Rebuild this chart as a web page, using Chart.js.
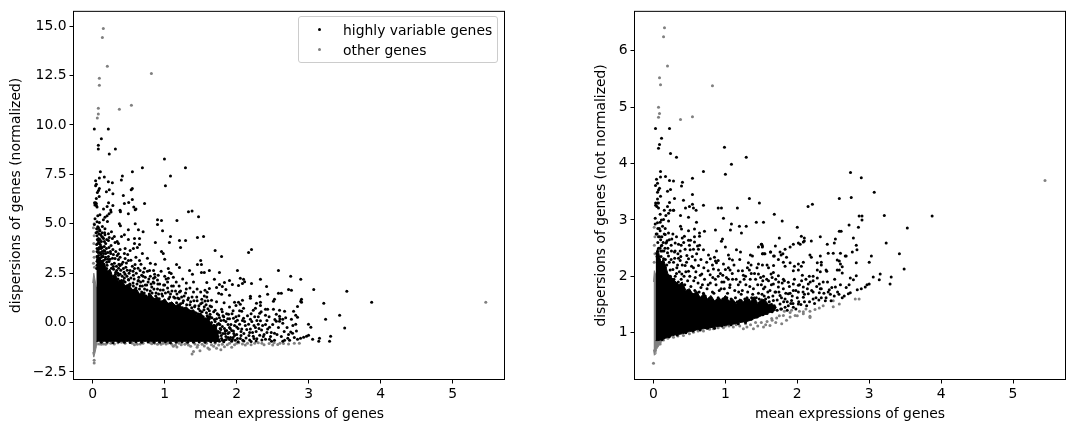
<!DOCTYPE html>
<html>
<head>
<meta charset="utf-8">
<title>Gene dispersions</title>
<script src="https://cdn.jsdelivr.net/npm/chart.js@4"></script>
<style>
  html, body { margin: 0; padding: 0; background: #fff; }
  #page { position: relative; width: 1075px; height: 432px; overflow: hidden; }
  canvas { position: absolute; top: 0; }
  #legend { position: absolute; left: 298px; top: 16px; width: 198px; height: 45px; border: 1px solid #ccc; border-radius: 3px; background: rgba(255,255,255,.8);
    font: 13.9px "DejaVu Sans", sans-serif; color: #000; }
  #legend div { position: absolute; left: 44px; white-space: nowrap; line-height: 16px; }
  #legend i { position: absolute; left: -25.5px; top: 6.5px; width: 3px; height: 3px; border-radius: 50%; }
</style>
</head>
<body>
<div id="page">
  <canvas id="grafNorm" width="537" height="432" style="left:0"></canvas>
  <canvas id="grafRaw" width="538" height="432" style="left:537px"></canvas>
  <div id="legend">
    <div style="top:4.5px"><i style="background:#000"></i>highly variable genes</div>
    <div style="top:24.5px"><i style="background:#808080"></i>other genes</div>
  </div>
</div>
<script>
const xTicks = [0, 1, 2, 3, 4, 5];
const normTicks = [-2.5, 0, 2.5, 5, 7.5, 10, 12.5, 15];
const rawTicks = [1, 2, 3, 4, 5, 6];

// normalized dispersion, [mean, dispersion]
const normOther = [
  [.147,14.88],[.134,14.43],[.203,12.97],[.815,12.61],[.092,12.36],[.092,12.01],[.078,10.85],[.078,10.55],[.064,10.35],[.37,10.8],[.537,11],[5.46,1.03],
  [.02,5],[.01,4.8],[.02,4.4],[.015,4],[.01,3.6],[.02,3.3],[.01,3],[.025,2.8],[.02,-2.05],[.02,-1.9],
  [.09,-1.08],[.12,-1.1],[.15,-1.08],[.18,-1.1],[.2,-1.03],[.25,-1.05],[.3,-1.08],[.35,-1.02],[.4,-1],[.45,-1.04],[.55,-1.05],[.58,-1.12],[.62,-1.1],[.66,-1.08],[.7,-1.04],
  [.8,-1.02],[.82,-1.07],[.86,-1.05],[.9,-1.09],[.95,-1.1],[.98,-1.05],[1.02,-1.08],[1.05,-1.03],[1.1,-1.1],[1.12,-1.2],[1.15,-1.14],[1.17,-1.23],[1.2,-1.05],[1.23,-1.12],[1.28,-1.09],
  [1.3,-1.04],[1.33,-1.13],[1.36,-1.2],[1.38,-1.59],[1.4,-1.46],[1.42,-1.08],[1.45,-1.25],[1.46,-1.15],[1.49,-1.42],[1.52,-1.1],[1.55,-1.18],[1.58,-1.05],[1.6,-1.28],[1.62,-1.35],[1.65,-1.12],
  [1.68,-1.2],[1.7,-1.05],[1.72,-1.3],[1.75,-1.14],[1.78,-1.38],[1.8,-1.1],[1.83,-1.22],[1.87,-1.12],[1.9,-1.04],[1.93,-1.25],[1.97,-1.12],[2,-1.05],[2.03,-1.02],[2.08,-1.08],[2.12,-1.14],
  [2.15,-1.05],[2.2,-1.12],[2.25,-1.05],[2.3,-1.02],[2.35,-1.05],[2.38,-1.12],[2.45,-1.06],[2.5,-1.14],[2.52,-1.02],[2.57,-1.11],[2.6,-1.04],[2.65,-1.06],[2.72,-1.08],[2.8,-1.04],[2.87,-1.04]
];
const normHvg = [
  [.022,9.79],[.217,9.79],[.12,9.3],[.078,8.98],[.078,8.78],[.315,8.78],[.23,8.53],[.996,8.28],[.69,7.83],[1.288,7.83],[.106,7.63],[.551,7.63],[1.08,7.42],[.412,7.42],[.092,7.32],[.161,7.37],
  [.04,7.18],[.398,7.22],[.217,7.13],[.273,7.08],[.05,7],[.04,6.93],[1.01,6.92],[.092,6.78],[.08,6.68],[.55,6.78],[.535,6.72],[.23,6.72],[.19,6.62],[.065,6.58],[.28,6.52],[.09,6.38],[.425,6.43],
  [.05,6.28],[.55,6.23],[.025,6.07],[.04,6.07],[.05,6.03],[.03,5.95],[.05,5.92],[.06,5.85],[.44,6.03],[.5,6.08],[.72,6.03],[.2,5.88],[.22,6.07],[.28,5.92],[.15,5.75],[.57,5.85],[.6,5.75],[.25,5.7],[.38,5.68],[1.38,5.65],
  [1.33,5.61],[1.47,5.36],[1.17,5.16],[.9,5.21],[.955,5.16],[.9,4.96],[.59,5],[.37,5],[.385,4.9],[.97,4.65],[.7,4.6],[.635,4.7],[.495,4.7],[.44,4.45],[.4,4.35],[1.08,4.35],[1.54,4.35],[1.455,4.3],
  [1.205,4.15],[1.29,4.15],[1.065,4.05],[.87,4.05],[1.22,3.8],[1.7,3.65],[.58,4.25],[.65,4.25],[.495,4.2],[.58,4],[.65,3.95],[.565,3.75],[.62,3.8],[.955,3.6],[.98,3.5],[.69,3.5],[.76,3.25],[.8,3],[.87,2.95],[1,3.2],
  [1.5,3.14],[1.455,2.94],[1.51,2.94],[1.165,2.94],[1.205,2.79],[1.05,2.74],[1.345,2.64],[1.385,2.44],[1.51,2.54],[1.55,2.54],[1.62,2.64],[.79,2.64],[.845,2.64],[.86,2.44],[1.065,2.54],[1.09,2.49],[1.05,2.24],[.91,2.39],[.845,2.24],[.73,2.29],[.635,2.13],
  [.385,5.61],[.495,5.51],[.59,5.71],[.255,5.59],[.227,5.51],[.2,5.41],[.17,5.33],[.1,5.46],[.148,5.21],[.032,5.26],[.092,5.06],[.204,5.11],[.023,4.96],[.134,4.86],[.17,4.75],[.055,4.75],[.1,4.65],[.046,4.55],[.218,4.5],[.17,4.45],
  [.125,4.35],[.08,4.25],[.273,4.25],[.218,4.15],[.162,4.1],[.31,4.05],[.357,4],[.18,4],[.255,3.9],[.116,3.85],[.055,3.95],[.38,3.7],[.45,3.75],[.52,3.65],[.486,3.44],[.357,3.48],[.287,3.44],[.218,3.34],[.17,3.61],[.116,3.44],
  [.08,3.19],[.148,3.14],[.227,3.09],[.31,3.24],[.357,3.19],[.45,3.24],[.495,3.14],[.588,2.94],[.65,3.14],[.468,3.02],[.38,2.89],[.287,2.84],[.194,2.74],[.125,2.84],[.055,2.74],[.426,2.74],[.52,2.64],[.58,2.74],[.658,2.64],[.333,2.64],[.24,2.54],
  [.45,2.44],[.357,2.39],[.565,2.39],[.68,2.39],[.17,2.34],[.3,2.24],[.495,2.18],[.426,2.13],[.06,3.6],[.07,4],[.06,4.4],[.08,3.4],[.09,3.8],[.1,4.2],[.11,3.5],[.13,3.8],[.07,3.2],[.1,3.1],[.14,3],[.17,2.7],[.2,2.9],[.23,2.45],[.26,2.75],[.29,2.35],[.32,2.55],[.35,2.2],[.38,2.45],[.41,2],[.44,2.25],[.47,1.85],[.5,2.15],[.12,3.3],[.15,3.5],
  [.52,1.9],[.56,2],[.6,1.75],[.63,2.1],[.66,1.85],[.7,2.1],[.68,1.55],[.72,1.7],[.75,1.9],[.78,2.2],[.8,1.6],[.82,1.8],[.85,2],[.88,1.5],[.9,1.7],[.93,1.95],[.96,1.45],[.98,1.65],[1,1.9],[1.02,2.2],[1.05,1.55],[1.07,1.3],[1.1,1.6],[1.12,1.85],[1.14,1.25],[1.17,1.45],[1.2,1.2],[1.22,1.6],[1.25,1],[1.27,1.35],[1.3,1.7],[1.32,1.15],[1.35,.9],[1.38,1.3],[1.4,1.55],[1.42,.85],[1.45,1.1],[1.47,.7],[1.5,.95],[1.52,.55],[1.55,.8],[1.58,.5],[1.6,.7],[1.63,.3],
  [1.79,3.34],[2.165,3.55],[2.206,3.7],[1.76,2.54],[2.01,2.64],[2.58,2.64],[2.75,2.34],[2.89,2.19],[2.33,2.19],[1.69,2.19],[1.9,2.13],[1.83,2.03],[1.94,1.93],[2.05,2.24],[2.095,2.19],[2.11,2.07],[2.08,1.98],[2.025,1.88],[2.206,1.98],
  [1.585,2.03],[1.76,1.93],[1.8,1.83],[1.72,1.77],[1.85,1.68],[1.62,1.73],[1.56,1.63],[1.59,1.53],[1.75,1.48],[1.79,1.43],[1.9,1.38],[2.415,1.83],[2.72,1.68],[2.76,1.63],[3.07,1.68],[3.53,1.58],[3.875,1.03],[2.58,1.48],[2.62,1.48],[2.43,1.43],[2.32,1.33],[2.19,1.33],[2.19,1.23],
  [2.525,1.18],[2.51,1.08],[2.9,1.18],[2.89,1.08],[2.9,1.03],[3.21,.98],[2.845,.82],[2.79,.57],[2.33,1.03],[2.275,.98],[2.33,.87],[2.08,1.13],[2.025,1.03],[1.97,1.03],[2.05,.93],[1.99,.87],[2.095,.72],[2.07,.57],[2.26,.72],[2.23,.62],[2.32,.47],
  [2.4,.67],[2.43,.67],[2.51,.67],[2.595,.62],[2.665,.57],[2.4,.37],[2.55,.42],[2.595,.32],[2.64,.17],[2.76,.17],[2.55,.07],[2.595,.07],[2.64,-.03],[2.82,.37],[2.845,.27],[2.82,-.08],[3.43,.37],[3.235,.17],[2.997,-.08],[3.03,-.23],[3.5,-.28],
  [2.456,-.23],[2.43,-.33],[2.83,-.43],[2.75,-.48],[2.776,-.54],[2.525,-.54],[3.305,-.69],[3.29,-.94],[3.15,-.79],[3.14,-.94],[3.055,-.84],[2.998,-.64],[2.97,-.69],[2.93,-.74],[2.887,-.79],[2.845,-.84],[2.735,-.89],[2.71,-.79],[2.665,-.89],[2.64,-.94],[2.525,-.89],
  [2.456,-.84],[2.484,-.94],[2.4,-.84],[2.32,-.64],[2.23,-.69],[2.19,-.33],[2.165,-.08],[2.33,.09],[2.3,-.08],[2.26,-.25],[2.345,-.38],[2.19,.17],[2.25,.29],[2.095,.22],[2.01,.12],[2.04,-.08],[2,-.22],[2.07,-.33],[1.955,-.42],[1.9,-.25],[1.84,-.42],[1.77,-.5],
  [1.955,.22],[1.886,.42],[1.82,.29],[1.75,.39],[1.7,.62],[1.63,.42],[1.63,.84],[1.79,.67],[1.9,.79],[1.72,1.06],[1.65,1.13],[1.56,1.09],[1.585,1.29],[1.515,1.18],[1.825,1.01],
  [1.95,-.75],[2,-.6],[2.05,-.8],[2.1,-.55],[2.13,-.78],[2.18,-.88],[2.22,-.5],[2.28,-.82],[2.35,-.88],[2.38,-.6],[2.42,-.5],[1.98,-.9],[1.9,-.85],[1.85,-.7],[1.8,-.9],[1.88,-.55],[1.92,-.1],[1.97,-.15],[1.8,-.2],[1.75,-.05],[1.78,.1],[1.85,.05],[1.72,.2],[1.65,0],[1.62,.2],[1.68,-.15],[1.7,-.4],[1.74,-.7],[1.66,-.85],[1.72,-.92]
];
// genes crowding the upper rim of the mass
const normHvgRim = [
  [.06,2.9],[.07,3.3],[.06,3.75],[.075,4.15],[.085,2.75],[.09,3.05],[.1,3.55],[.105,3.95],[.12,2.7],[.125,3.1],[.13,3.6],[.14,2.55],[.145,3.35],[.155,2.95],[.16,3.85],[.17,2.45],[.175,3.2],[.18,3.5],[.19,2.6],[.195,3.05],[.065,4.6],[.085,4.5],[.06,5.1],[.07,5.4],[.08,4.8],[.06,3.1],[.075,3.55],[.11,4.45],[.15,4.25],[.13,4.55],[.19,3.75],
  [.21,3.55],[.225,3.8],[.24,3.2],[.25,3.5],[.265,2.95],[.275,3.25],[.29,2.7],[.3,3],[.315,2.45],[.33,2.85],[.34,3.4],[.35,2.5],[.365,2.95],[.375,2.1],[.39,2.65],[.4,2.95],[.41,2.35],[.425,1.85],[.435,2.55],[.45,2.05],[.46,2.8],[.475,2.35],[.49,1.75],[.505,2.5],[.515,1.95],[.53,2.25],[.54,1.65],[.55,2.85],[.565,1.85],[.575,2.2],[.59,1.55],
  [.605,2.5],[.615,1.95],[.625,1.45],[.64,2.3],[.65,1.7],[.665,2.05],[.675,1.4],[.69,1.85],[.705,2.55],[.715,1.5],[.73,1.9],[.74,1.35],[.755,1.65],[.77,2.05],[.785,1.45],[.795,1.25],[.81,1.95],[.825,1.5],[.835,1.2],[.85,1.7],[.865,2.3],[.875,1.35],[.89,1.15],[.905,1.95],[.915,1.45],[.925,1.2],[.94,1.65],[.955,1.05],[.97,1.35],[.985,1.9],[.995,1.1],
  [1.01,1.5],[1.025,.95],[1.04,1.75],[1.055,1.2],[1.065,.95],[1.08,1.45],[1.095,1.85],[1.11,.9],[1.125,1.3],[1.135,.85],[1.15,1.6],[1.165,1],[1.18,1.25],[1.19,.8],[1.205,1.55],[1.22,.95],[1.235,1.3],[1.245,.75],[1.26,1.1],[1.275,.7],[1.29,1.5],[1.305,.9],[1.315,.65],[1.33,1.25],[1.345,.6],[1.36,1.05],[1.375,.75],[1.39,.55],[1.405,1.1],[1.415,.8],[1.43,.5],[1.445,1.3],
  [1.46,.45],[1.475,.85],[1.49,.6],[1.505,.35],[1.52,1],[1.535,.3],[1.545,.65],[1.56,.2],[1.575,.9],[1.59,.35],[1.605,.05],[1.62,.6],[1.64,-.1],[1.655,.25],[1.67,-.3],[1.69,.15],[1.71,-.2],[1.73,.45],[1.745,-.45],[1.765,-.1],[1.785,-.65],[1.81,.35],[1.83,-.3],[1.855,-.85],[1.875,.2],[1.895,-.5],[1.915,-.75],[1.935,.45],[1.96,-.55],[1.985,.05],[2.01,-.8],
  [2.03,.35],[2.06,-.45],[2.085,-.9],[2.11,.05],[2.14,-.35],[2.17,-.65],[2.2,.45],[2.24,-.15],[2.27,-.45],[2.3,.3],[2.36,-.15],[2.42,.1],[2.48,-.5],[2.53,.15],[2.58,-.25],[2.62,-.7],[2.7,-.25],[2.78,-.15],
  [.12,-1],[.2,-.98],[.28,-1.02],[.36,-.97],[.44,-1],[.52,-1.01],[.6,-.98],[.68,-.99],[.77,-.98],[.85,-1],[.93,-1],[1.01,-.97],[1.08,-1.02],[1.16,-.99],[1.24,-.98],[1.32,-1],[1.4,-1],[1.48,-.98],[1.56,-1],[1.64,-.97],[1.7,-.98],[1.76,-.95],[1.82,-.97],[1.93,-.95],[2.02,-.97],[2.1,-.93],[2.2,-.96],[2.27,-.93],
  [1.69,-.7],[1.72,-.55],[1.75,-.85],[1.77,-.3],[1.79,-.8],[1.81,-.55],[1.83,-.9],[1.86,-.4],[1.88,-.75],[1.91,-.3],[1.94,-.85],[1.6,.3],
  [1.68,.55],[1.7,.05],[1.73,-.1],[1.76,.25],[1.78,-.35],[1.8,.55],[1.82,.12],[1.84,-.55],[1.86,.45],[1.88,-.1],[1.9,.2],[1.93,-.4],[1.95,.6],[1.97,-.65],[1.99,.3],[2.02,-.3],[2.04,.6],[2.06,-.65],[2.08,.1],[2.12,-.15],[2.15,.35],[2.18,-.5],[2.21,.05],[2.24,-.8],[2.28,.1],[2.31,-.3],[2.34,.55],[2.37,-.7],[2.4,-.1],[2.45,.3],[2.47,-.7],[2.5,-.1],[2.56,-.6],[2.6,.2],[2.66,-.45],[2.68,.25],[2.72,-.6],[2.8,-.75],
  [.06,3.35],[.065,4.2],[.07,4.85],[.08,3.7],[.09,4.05],[.095,4.7],[.1,3.25],[.115,3.75],[.12,4.1],[.135,3.35],[.14,4.3],[.155,3.65],[.165,4.55],[.18,3.3],[.195,4.2],[.21,3.2],[.23,4.3],[.245,3.6],[.26,4.6],[.28,3.7],[.3,4.35],[.32,3.6],[.34,4.1],[.36,2.75],[.38,3.3],[.42,3.05],[.44,3.5],[.48,2.65],[.53,3.15],[.56,2.6],[.6,3.3],[.63,2.75],[.67,2.95],[.7,2.35],[.72,2.75],[.76,2.6],[.8,2.35],[.84,2.05],[.9,2.15],[.95,2.6],[1,2.35],[1.04,2.05],[1.12,2.3],[1.16,2.05],[1.2,1.85],[1.25,2.2],[1.3,2],[1.35,1.75],[1.4,2.05],[1.45,1.7],[1.5,1.55],[1.55,1.35],[1.6,1.1],[1.65,.8]
];

// where the genes pile up into solid ink, the edge of the mass is kept instead of each dot
const normCoreX = [.05,.08,.1,.13,.16,.2,.24,.28,.32,.36,.4,.45,.5,.55,.6,.65,.7,.75,.8,.85,.9,.95,1,1.05,1.1,1.15,1.2,1.25,1.3,1.35,1.4,1.45,1.5,1.55,1.6,1.65,1.7,1.75];
const normCoreHigh = [3.4,3.2,3.3,2.95,3,2.6,2.7,2.3,2.4,2.05,2.2,1.85,1.95,1.65,1.75,1.45,1.55,1.3,1.45,1.2,1.3,1.05,1.2,.95,1.05,.85,.95,.7,.8,.6,.65,.4,.5,.2,.25,-.15,-.1,-.6];
const normCoreLow = [-.95,-.95,-.95,-.95,-.95,-.95,-.95,-.95,-.95,-.95,-.95,-.95,-.95,-.95,-.95,-.95,-.95,-.95,-.95,-.95,-.95,-.95,-.95,-.95,-.95,-.95,-.95,-.95,-.95,-.95,-.95,-.95,-.95,-.95,-.95,-.95,-.95,-.95];
const normStripX = [0,.015,.03,.048,.052,.07];
const normStripHigh = [2,2.5,2.2,1.8,-.9,-.95];
const normStripLow = [-1.5,-1.75,-1.55,-1.25,-1.2,-1.05];

// raw dispersion, [mean, dispersion]
const rawOther = [
  [.153,6.41],[.14,6.25],[.195,5.73],[.084,5.52],[.098,5.4],[.82,5.38],[.07,5],[.084,4.89],[.07,4.82],[.376,4.78],[.542,4.83],[5.445,3.7],
  [.01,2.87],[.02,2.7],[.012,2.55],[.02,2.4],[.01,2.25],[0,.46],[.024,.69],
  [2.806,1.6],[2.86,1.6],[2.584,1.51],[2.5,1.46],[2.5,1.565],[2.36,1.48],[2.306,1.44],[2.246,1.41],[2.176,1.38],[2.176,1.29],[2.084,1.335],[1.97,1.305],[1.9,1.28],[1.806,1.305],[1.713,1.26],[1.644,1.25],
  [2.177,1.27],[2.084,1.37],[1.783,1.16],[1.62,1.13],[1.53,1.1],[1.39,1.07],[1.25,1.07],[1.11,1.1],[.973,1.09],[.834,1.07],[.695,1.03],[.556,1.01],[.417,.95],[.278,.92],[.14,.87],[.093,.8],
  [1.9,1.36],[1.85,1.22],[1.75,1.3],[1.7,1.18],[1.65,1.22],[1.58,1.2],[1.56,1.14],[1.5,1.18],[1.45,1.12],[1.42,1.18],[1.35,1.14],[1.3,1.1],[1.28,1.16],[1.2,1.12],[1.15,1.14],[1.05,1.12],[1,1.12],[.9,1.09],[.78,1.06],[.74,1.08],[.62,1.03],[.5,.98],[.34,.94],[.2,.9],
  [2,1.3],[2.03,1.38],[2.12,1.42],[1.92,1.4],[1.82,1.38]
];
const rawHvg = [
  [.028,4.62],[.223,4.62],[.112,4.45],[.084,4.34],[.07,4.27],[.987,4.29],[.237,4.18],[.32,4.11],[1.29,4.11],[1.084,3.99],[.098,3.86],[.695,3.86],[1,3.81],[2.74,3.84],[.042,3.72],[.098,3.76],[.167,3.77],[.542,3.74],[.223,3.7],[.278,3.69],[.056,3.65],[.028,3.61],
  [.403,3.67],[.39,3.6],[.084,3.56],[.07,3.53],[.237,3.54],[.195,3.51],[.056,3.49],[.542,3.45],[.098,3.42],[.292,3.38],[1.334,3.38],[2.584,3.38],[.056,3.37],[.417,3.35],[.223,3.31],[1.473,3.3],[2.15,3.24],[2.21,3.28],[.03,3.3],[.056,3.3],[.07,3.3],[.03,3.26],[.047,3.24],
  [.195,3.24],[.695,3.26],[.542,3.28],[.5,3.24],[.445,3.21],[.556,3.21],[.9,3.21],[.945,3.21],[1.167,3.21],[.278,3.17],[.15,3.17],[.07,3.21],[.593,3.17],[2.89,3.75],[3.53,2.855],[3.875,3.07],[3.486,2.13],
  [.376,3.08],[.487,3.05],[.973,3.03],[1.68,3.1],[.598,2.96],[.376,2.89],[.39,2.84],[.487,2.81],[.57,2.84],[.709,2.8],[.64,2.77],[.862,2.82],[1.07,2.82],[1.084,2.93],[1.195,2.89],[1.29,2.89],[1.223,2.77],[1.43,2.96],[1.53,2.96],[.43,2.71],[.487,2.64],[.515,2.64],
  [.57,2.7],[.64,2.71],[.57,2.61],[.64,2.55],[.96,2.66],[.945,2.62],[.4,2.68],[.348,2.57],[.385,2.55],[.612,2.54],[.556,2.48],[.625,2.48],[1.505,2.57],[1.515,2.54],[1.46,2.52],[1,2.52],[1.154,2.47],[1.21,2.43],[.876,2.45],[.695,2.47],[.765,2.38],[1.042,2.38],
  [1.056,2.31],[1.098,2.29],[.848,2.34],[.79,2.31],[.862,2.27],[.876,2.24],[.973,2.22],[1.348,2.38],[1.376,2.36],[1.515,2.4],[1.54,2.4],[1.626,2.43],[1.68,2.36],[1.46,2.22],[1.515,2.2],[1.6,2.15],[1.67,2.19],[1.32,2.24],[1.357,2.2],[1.18,2.1],[1.237,2.1],[1.306,2.15],[1.334,2.11],
  [1.042,2.15],[1.065,2.11],[.904,2.11],[.834,2.13],[.788,2.03],[.964,2.02],[1.46,2.04],[1.53,2],[1.635,2.04],
  [.232,3.17],[.28,3.17],[.21,3.12],[.172,3.08],[.093,3.1],[.14,3.01],[.024,3.03],[.093,2.96],[.21,2.98],[.024,2.93],[.126,2.89],[.163,2.85],[.061,2.85],[.093,2.81],[.209,2.77],[.038,2.75],[.116,2.7],[.163,2.74],[.255,2.66],[.19,2.63],[.246,2.55],[.302,2.59],
  [.107,2.54],[.172,2.59],[.371,2.45],[.44,2.48],[.51,2.47],[.292,2.43],[.209,2.36],[.464,2.37],[.348,2.32],[.487,2.31],[.14,2.31],[.07,2.25],[.279,2.25],[.371,2.28],[.58,2.29],[.626,2.19],[.44,2.19],[.163,2.16],[.325,2.15],[.232,2.11],[.556,2.15],[.487,2.09],[.394,2.04],[.672,2.04],[.302,2],[.14,2],[.58,1.98],
  [2.75,3.4],[3.07,3.49],[1.79,2.98],[2,2.87],[2.86,3.07],[2.9,3.07],[2.9,3],[3.21,3.08],[2.72,2.91],[2.85,2.87],[2.584,2.8],[2.61,2.8],[2.78,2.68],[3.236,2.59],[2.32,2.7],[2.056,2.71],[2.098,2.68],[2.098,2.625],[2.084,2.61],[2.04,2.57],[1.75,2.68],[2.195,2.625],
  [2.53,2.66],[2.515,2.59],[2.417,2.57],[1.695,2.54],[1.945,2.57],[1.9,2.52],[1.83,2.48],[2.015,2.59],[1.5,2.57],[1.514,2.52],[2.82,2.55],[2.83,2.47],[2.765,2.43],[2.43,2.41],[2.5,2.41],[2.6,2.41],[1.63,2.43],[1.67,2.36],[1.52,2.4],[1.55,2.4],[1.76,2.43],[1.8,2.4],[1.775,2.38],
  [1.85,2.34],[1.806,2.25],[1.737,2.3],[2.176,2.38],[2.195,2.34],[2.32,2.36],[2.667,2.36],[2.68,2.36],[3.03,2.36],[3.42,2.4],[2.556,2.29],[2.584,2.27],[2.6,2.22],[3,2.25],[2.82,2.24],[2.334,2.25],[2.278,2.24],[2.334,2.2],[2.084,2.25],[2.015,2.22],[2.056,2.18],[1.9,2.24],[1.96,2.18],[1.83,2.18],
  [2.278,2.11],[2.32,2.08],[2.4,2.11],[2.41,2.09],[2.556,2.11],[2.584,2.11],[2.625,2.17],[2.625,2.06],[3.153,2.04],[3.056,1.99],[3.14,1.94],[3.306,1.99],[3.29,1.865],[2.82,2.01],[2.78,1.94],[2.737,1.97],[3,1.865],[2.97,1.85],[2.945,1.81],[2.89,1.78],[2.834,1.76],[2.53,1.81],[2.445,1.76],[2.43,1.72],
  [2.737,1.71],[2.71,1.69],[2.653,1.65],[2.625,1.62],[2.514,1.65],[2.47,1.565],[2.39,1.565],[2.334,1.62],[2.306,1.71],[2.334,1.78],[2.306,1.865],[2.278,1.97],[2.22,2],[2.167,2],[2.07,2.02],[2.015,2.11],[1.945,2.1],[2.22,1.92],[2.153,1.865],[2.084,1.81],[2.015,1.84],[1.945,1.865],[1.875,1.895],
  [1.806,1.95],[1.737,2.01],[1.667,2.07],[2.153,1.69],[2.22,1.6],[2.084,1.63],[2.015,1.72],[1.945,1.75],[1.875,1.69],[1.806,1.78],[1.737,1.81],[1.667,1.865],[1.6,1.92],[2.13,1.48],[2.015,1.51],[1.92,1.57],[1.83,1.6],[1.76,1.66],[1.69,1.72],[1.62,1.75],[1.55,1.81],[1.945,1.45],[1.875,1.48],[1.76,1.51],[1.83,1.45],[1.667,1.57],[1.6,1.63],[1.69,1.45],[1.62,1.48],
  [.1,2.45],[.06,2.6],[.12,2.2],[.18,2.02],[.25,1.9],[.33,1.85],[.42,1.78],[.5,1.72],[.6,1.7],[.66,1.8],[.72,1.65],[.76,1.85],[.82,1.72],[.86,1.95],[.9,1.62],[.94,1.78],[.98,1.9],[1.02,1.62],[1.06,1.8],[1.1,1.95],[1.14,1.62],[1.18,1.85],[1.22,1.68],[1.26,1.95],[1.3,1.62],[1.34,1.82],[1.38,1.68],[1.42,1.95],[1.46,1.7],[1.5,1.85],[1.54,1.65]
];
const rawHvgRim = [
  [.05,2.35],[.06,2.15],[.07,2.5],[.08,2.3],[.085,2.7],[.095,2.15],[.105,2.35],[.115,2.55],[.125,2.05],[.13,2.25],[.145,2.45],[.15,2.1],[.165,2.3],[.175,1.98],[.185,2.2],[.195,2.42],[.205,1.95],[.22,2.25],[.235,2],[.245,2.3],[.26,1.88],[.27,2.12],[.285,1.95],[.295,2.32],[.31,1.82],[.32,2.05],[.335,2.2],[.345,1.9],[.36,2.08],[.37,1.78],[.385,1.95],[.4,2.2],[.41,1.75],
  [.425,2],[.435,1.85],[.45,2.08],[.465,1.72],[.475,1.92],[.49,1.7],[.505,2],[.52,1.82],[.53,2.18],[.545,1.68],[.56,1.92],[.575,1.75],[.59,2.08],[.605,1.65],[.62,1.88],[.635,1.72],[.65,2.02],[.665,1.62],[.68,1.85],[.695,1.7],[.71,1.95],[.73,1.58],[.745,1.78],[.76,2.1],[.775,1.6],[.79,1.88],[.81,1.55],[.825,1.98],[.84,1.7],[.855,1.55],[.87,1.85],[.885,1.58],[.9,2],[.915,1.75],[.93,1.55],[.95,1.9],[.965,1.6],[.985,1.78],
  [1,1.55],[1.015,1.98],[1.03,1.7],[1.045,1.52],[1.065,1.85],[1.08,1.6],[1.095,2.05],[1.115,1.53],[1.13,1.75],[1.15,1.95],[1.165,1.55],[1.185,1.72],[1.205,1.9],[1.215,1.57],[1.235,1.75],[1.25,2.02],[1.27,1.6],[1.285,1.85],[1.31,1.72],[1.325,1.58],[1.345,1.95],[1.365,1.62],[1.39,1.78],[1.405,2.05],[1.43,1.62],[1.45,1.85],[1.47,1.6],[1.49,1.98],[1.51,1.68],[1.53,1.78],[1.56,1.6],[1.575,1.95],[1.59,1.72],[1.61,1.55],
  [1.64,1.85],[1.66,1.65],[1.68,1.48],[1.7,1.95],[1.72,1.58],[1.745,1.72],[1.77,1.42],[1.79,1.88],[1.81,1.55],[1.84,1.7],[1.86,1.4],[1.89,1.82],[1.91,1.52],[1.93,1.65],[1.96,1.95],[1.98,1.42],[2,1.62],[2.03,1.85],[2.05,1.5],[2.08,1.72],[2.1,1.55],[2.12,1.95],[2.17,1.55],[2.2,1.75],[2.24,1.52],[2.27,1.82],[2.3,1.58],[2.37,1.7],[2.42,1.9],[2.46,1.68],[2.56,1.72],[2.6,1.85],[2.68,1.8],[2.72,1.85],
  [1.36,1.24],[1.44,1.28],[1.52,1.32],[1.58,1.34],[1.65,1.37],[1.72,1.4],[1.78,1.42],[.12,.88],[.22,.93],[.33,.96],[.45,1],[.55,1.03],[.65,1.05],[.75,1.08],[.85,1.08],[.95,1.12],[1.08,1.14],[1.18,1.16],[1.28,1.18],
  [.05,2.75],[.055,2.95],[.07,2.7],[.08,2.85],[.09,2.5],[.1,2.65],[.11,3],[.12,2.45],[.135,2.6],[.15,2.75],[.16,2.5],[.18,2.6],[.2,2.5],[.22,2.65],[.25,2.45],[.27,2.75],[.3,2.45],[.32,2.7],[.34,2.4],[.38,2.35],[.42,2.6],[.46,2.25],[.5,2.55],[.54,2.35],[.6,2.4],[.66,2.3],[.7,2.15],[.74,2.25],[.82,2.2],[.9,2.28],[.93,2.05],[1,2.12],[1.04,1.95],[1.12,2.2],[1.2,2.3],[1.28,2],[1.36,2.05],[1.44,2.15],[1.52,1.92],[1.58,2.2],[1.65,1.98],[1.7,1.72],[1.74,1.9],[1.78,1.62],[1.82,1.92],[1.86,1.55],[1.9,1.7],[1.94,1.52],[1.98,1.75],[2.02,1.55],[2.06,1.92],[2.1,1.68],[2.14,1.78],[2.18,1.9],[2.22,1.72],[2.26,1.62],[2.32,1.78],[2.36,1.9],[2.4,1.62],[2.48,1.8],[2.52,1.95],[2.58,1.68]
];

const rawCoreX = [.03,.06,.1,.14,.2,.25,.3,.35,.4,.45,.5,.55,.6,.65,.7,.75,.8,.85,.9,.95,1,1.05,1.1,1.15,1.2,1.25,1.3,1.35,1.4,1.45,1.5,1.55,1.6,1.65,1.7];
const rawCoreHigh = [2.4,2.5,2.25,2.3,2.05,1.98,1.92,1.85,1.9,1.75,1.78,1.68,1.74,1.62,1.7,1.6,1.66,1.56,1.62,1.58,1.66,1.56,1.6,1.52,1.6,1.55,1.62,1.56,1.64,1.52,1.6,1.58,1.5,1.52,1.42];
const rawCoreLow = [.86,.86,.87,.89,.92,.94,.96,.97,.98,1,1.02,1.03,1.05,1.06,1.07,1.08,1.09,1.1,1.11,1.12,1.13,1.14,1.15,1.16,1.18,1.19,1.2,1.22,1.25,1.27,1.3,1.32,1.35,1.37,1.4];
const rawStripX = [0,.012,.025,.035,.04,.09,.12];
const rawStripHigh = [1.9,2.1,2.05,2,.9,.88,.87];
const rawStripLow = [.7,.6,.62,.68,.7,.8,.85];

function toPoints(pairs) {
  return pairs.map(p => ({ x: p[0], y: p[1] }));
}

function edge(xs, ys) {
  return xs.map((x, i) => ({ x: x, y: ys[i] }));
}

function dots(pairs, color, order) {
  return { type: 'scatter', data: toPoints(pairs), backgroundColor: color, borderWidth: 0, pointRadius: 1.5, order: order };
}

// two line datasets filled against each other
function mass(xs, high, low, color, order) {
  const line = { type: 'line', pointRadius: 0, borderColor: color, backgroundColor: color, borderWidth: 1, tension: 0, order: order };
  return [
    Object.assign({}, line, { data: edge(xs, high), fill: '+1' }),
    Object.assign({}, line, { data: edge(xs, low), fill: false })
  ];
}

const frame = {
  id: 'frame',
  afterDraw(chart) {
    const a = chart.chartArea;
    chart.ctx.save();
    chart.ctx.strokeStyle = '#000';
    chart.ctx.lineWidth = 1;
    chart.ctx.strokeRect(a.left, a.top, a.right - a.left, a.bottom - a.top);
    chart.ctx.restore();
  }
};

function dibujar(id, cfg) {
  const font = { family: '"DejaVu Sans"', size: 13.9 };
  const grid = { drawOnChartArea: false, drawTicks: true, tickLength: 4, tickColor: '#000', tickWidth: 1 };
  new Chart(document.getElementById(id), {
    data: { datasets: cfg.datasets },
    plugins: [frame],
    options: {
      responsive: false,
      animation: false,
      layout: { padding: { top: 9.5, right: cfg.rightPad, left: 0, bottom: 0 } },
      plugins: { legend: { display: false }, tooltip: { enabled: false } },
      scales: {
        x: {
          type: 'linear', min: cfg.xMin, max: cfg.xMax,
          grid: grid, border: { display: false },
          afterBuildTicks: s => { s.ticks = xTicks.map(v => ({ value: v })); },
          afterFit: s => { s.height = 52.5; },
          ticks: { color: '#000', font: font, padding: 3, maxRotation: 0, callback: v => String(v) },
          title: { display: true, text: 'mean expressions of genes', color: '#000', font: font, padding: { top: 0, bottom: 9 } }
        },
        y: {
          type: 'linear', min: cfg.yMin, max: cfg.yMax,
          grid: grid, border: { display: false },
          afterBuildTicks: s => { s.ticks = cfg.yTicks.map(v => ({ value: v })); },
          afterFit: s => { s.width = cfg.leftWidth; },
          ticks: { color: '#000', font: font, padding: 3, callback: cfg.yLabel },
          title: { display: true, text: cfg.yTitle, color: '#000', font: font, padding: { top: cfg.titlePad, bottom: 0 } }
        }
      }
    }
  });
}

dibujar('grafNorm', {
  datasets: [
    dots(normOther, '#808080', 4),
    ...mass(normStripX, normStripHigh, normStripLow, '#808080', 3),
    dots(normHvg.concat(normHvgRim), '#000', 2),
    ...mass(normCoreX, normCoreHigh, normCoreLow, '#000', 1)
  ],
  xMin: -0.267, xMax: 5.72, yMin: -2.88, yMax: 15.75,
  yTicks: normTicks,
  yLabel: v => v.toFixed(1).replace('-', '\u2212'),
  yTitle: 'dispersions of genes (normalized)',
  leftWidth: 73.5, rightPad: 32.5, titlePad: 8
});

dibujar('grafRaw', {
  datasets: [
    dots(rawOther, '#808080', 4),
    ...mass(rawStripX, rawStripHigh, rawStripLow, '#808080', 3),
    dots(rawHvg.concat(rawHvgRim), '#000', 2),
    ...mass(rawCoreX, rawCoreHigh, rawCoreLow, '#000', 1)
  ],
  xMin: -0.264, xMax: 5.73, yMin: 0.17, yMax: 6.70,
  yTicks: rawTicks,
  yLabel: v => String(v),
  yTitle: 'dispersions of genes (not normalized)',
  leftWidth: 97.5, rightPad: 9.5, titlePad: 56
});
</script>
</body>
</html>
